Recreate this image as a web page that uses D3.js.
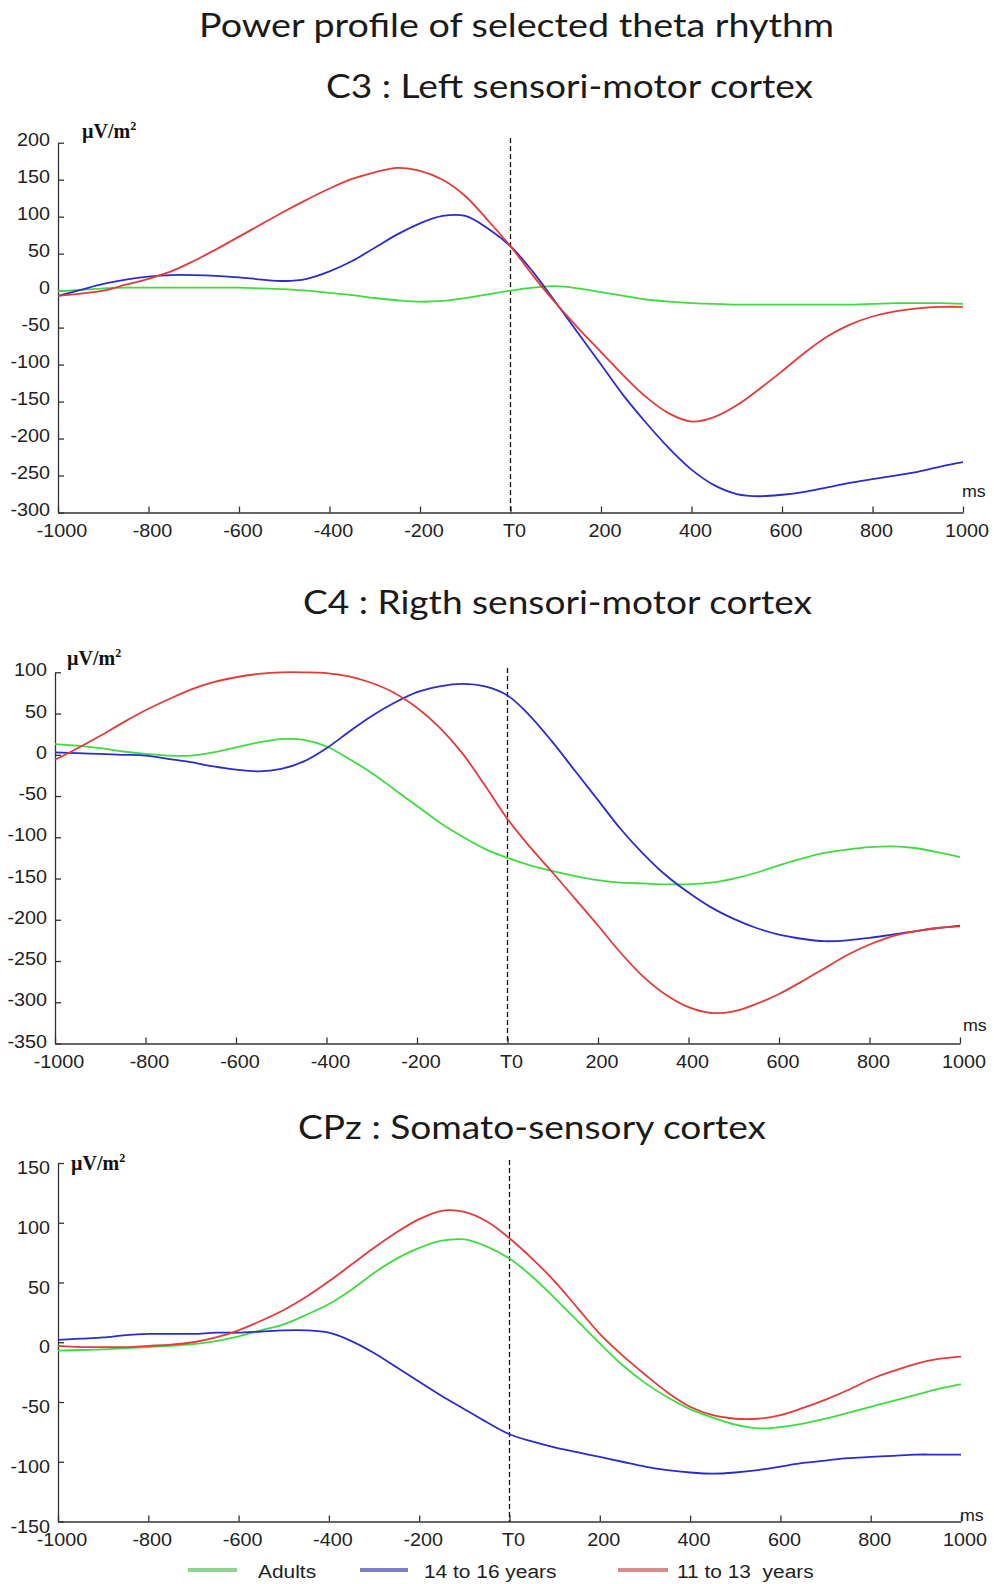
<!DOCTYPE html>
<html><head><meta charset="utf-8">
<script src="https://cdn.jsdelivr.net/npm/d3@7"></script>
<style>body{margin:0;background:#fff} svg{display:block}</style>
</head><body>
<svg id="c" width="994" height="1584"></svg>
<script>
// ---------- data ----------
const times = [-1000,-950,-900,-850,-800,-750,-700,-650,-600,-550,-500,-450,-400,-350,-300,-250,-200,-150,-100,-50,
  0,50,100,150,200,250,300,350,400,450,500,550,600,650,700,750,800,850,900,950,1000];
const xTicks = [-1000,-800,-600,-400,-200,0,200,400,600,800,1000];
const xTickLabels = ["-1000","-800","-600","-400","-200","T0","200","400","600","800","1000"];
const seriesNames = ["Adults","14 to 16 years","11 to 13  years"];

const mainTitle = "Power profile of selected theta rhythm";
const panelTitles = ["C3 : Left sensori-motor cortex","C4 : Rigth sensori-motor cortex","CPz : Somato-sensory cortex"];

// C3
const c3YTicks = [200,150,100,50,0,-50,-100,-150,-200,-250,-300];
const c3Adults = [-1,1,3,4,4,4,4,4,4,3,2,0,-3,-6,-10,-13,-15,-14,-10,-5,
  0,4,6,3,-2,-7,-12,-15,-17,-18,-19,-19,-19,-19,-19,-19,-18,-17,-17,-17,-18];
const c3Teen = [-7,1,9,15,19,21,21,20,18,15,13,16,26,40,58,76,91,101,101,84,
  60,25,-16,-58,-100,-142,-179,-213,-242,-263,-275,-278,-276,-272,-266,-260,-255,-250,-245,-238,-232];
const c3Child = [-7,-4,0,8,16,26,40,56,73,90,107,123,138,151,160,166,162,150,128,95,
  60,20,-17,-51,-83,-115,-144,-166,-177,-171,-155,-133,-109,-84,-62,-46,-35,-28,-24,-22,-22];

// C4
const c4YTicks = [100,50,0,-50,-100,-150,-200,-250,-300,-350];
const c4Adults = [13,11,8,4,1,-1,-1,3,9,15,19,18,10,-5,-22,-42,-62,-82,-99,-114,
  -125,-134,-141,-147,-152,-155,-156,-157,-157,-155,-150,-143,-134,-126,-119,-115,-112,-111,-113,-118,-124];
const c4Teen = [3,2,1,0,-1,-5,-9,-14,-18,-20,-17,-8,8,28,47,63,76,83,86,83,
  72,47,15,-20,-55,-90,-120,-146,-167,-185,-199,-210,-218,-223,-226,-225,-222,-218,-214,-210,-207];
const c4Child = [-6,8,23,39,54,67,79,88,94,98,100,100,99,95,87,75,57,33,2,-37,
  -78,-112,-143,-175,-207,-240,-269,-291,-306,-313,-311,-302,-290,-275,-259,-243,-230,-220,-214,-210,-208];

// CPz
const cpzYTicks = [150,100,50,0,-50,-100,-150];
const cpzAdults = [-7,-6.5,-6,-5,-4,-3,-1.5,1,5,10,15,23,32,44,58,70,79,85,86,80,
  70,55,37,18,-1,-19,-34,-46,-56,-63,-69,-72,-71,-68,-64,-59,-54,-49,-44,-39,-35];
const cpzTeen = [2,3,4,6,7,7,7,8,8,9,10,10,8,1,-9,-21,-33,-45,-56,-67,
  -77,-83,-88,-92,-96,-100,-104,-107,-109,-110,-109,-107,-104,-101,-99,-97,-96,-95,-94,-94,-94];
const cpzChild = [-3,-4,-4,-4,-3,-2,0,4,10,18,27,38,51,65,79,92,103,110,109,101,
  87,70,51,29,7,-11,-27,-42,-54,-61,-64,-64,-61,-55,-48,-40,-31,-24,-18,-14,-12];

// ---------- drawing ----------
const colors = ["#3fdc3f","#2b2bcf","#e53a3a"];
const legendColors = ["#8fd48f","#7c7cc9","#d98c8c"];
const svg = d3.select("#c");
const tickFont = "'Liberation Sans', Arial, sans-serif";

function stretchedText(g, x, y, txt, size, anchor, sx) {
  return g.append("text")
    .attr("transform", `translate(${x},${y}) scale(${sx||1.1},1)`)
    .attr("text-anchor", anchor || "start")
    .style("font-family", tickFont).style("font-size", size + "px")
    .style("white-space", "pre")
    .attr("fill", "#222").text(txt);
}

function fitTitle(txt, x0, x1, y, size) {
  svg.append("text").attr("x", (x0 + x1) / 2).attr("y", y)
    .attr("text-anchor", "middle")
    .attr("textLength", x1 - x0).attr("lengthAdjust", "spacingAndGlyphs")
    .style("font-family", "Lato, 'Open Sans', sans-serif").style("font-size", size + "px")
    .attr("fill", "#1a1a1a").text(txt);
}

fitTitle(mainTitle, 199, 834, 37, 33);

const panels = [
  {title: panelTitles[0], tx: [326, 813], ty: 98, x0: 58, x1: 963, yTop: 142.7, yBot: 512.5,
   domain: [-300, 200], ticks: c3YTicks, dashTop: 138, series: [c3Adults, c3Teen, c3Child],
   unitX: 82, unitY: 138, msX: 0, msY: 497, labOff: 3},
  {title: panelTitles[1], tx: [303, 812], ty: 614, x0: 55, x1: 960, yTop: 672.3, yBot: 1043.5,
   domain: [-350, 100], ticks: c4YTicks, dashTop: 668, series: [c4Adults, c4Teen, c4Child],
   unitX: 67, unitY: 665, msX: 4, msY: 1031, labOff: 4},
  {title: panelTitles[2], tx: [298, 766], ty: 1139, x0: 58, x1: 961, yTop: 1163, yBot: 1521.5,
   domain: [-150, 150], ticks: cpzYTicks, dashTop: 1160, series: [cpzAdults, cpzTeen, cpzChild],
   unitX: 71, unitY: 1170, msX: 0, msY: 1521, labOff: 11}
];

panels.forEach(p => {
  fitTitle(p.title, p.tx[0], p.tx[1], p.ty, 32);
  const x = d3.scaleLinear().domain([-1000, 1000]).range([p.x0, p.x1]);
  const y = d3.scaleLinear().domain(p.domain).range([p.yBot, p.yTop]);
  const g = svg.append("g");

  // axes
  const xAxis = g.append("g").attr("transform", `translate(0,${p.yBot})`)
    .call(d3.axisBottom(x).tickValues(xTicks).tickSizeInner(-6).tickSizeOuter(0).tickFormat(""));
  const yAxis = g.append("g").attr("transform", `translate(${p.x0},0)`)
    .call(d3.axisLeft(y).tickValues(p.ticks).tickSizeInner(-6).tickSizeOuter(0).tickFormat(""));
  [xAxis, yAxis].forEach(a => {
    a.select(".domain").attr("stroke", "#333").attr("stroke-width", 1.3);
    a.selectAll(".tick line").attr("stroke", "#333").attr("stroke-width", 1.3);
  });

  // tick labels
  xTicks.forEach((t, i) => stretchedText(g, x(t) + 4, p.yBot + 24, xTickLabels[i], 18, "middle"));
  p.ticks.forEach(t => stretchedText(g, p.x0 - 8, y(t) + p.labOff, String(t), 18, "end"));

  // unit labels
  const u = g.append("text").attr("x", p.unitX).attr("y", p.unitY)
    .style("font-family", "'Liberation Serif', 'Times New Roman', serif")
    .style("font-size", "20px").style("font-weight", "bold").attr("fill", "#111");
  u.append("tspan").text("µV/m");
  u.append("tspan").attr("dy", -8).style("font-size", "12px").text("2");
  stretchedText(g, p.x1 + p.msX - 1, p.msY, "ms", 17, "start", 1.05);

  // dashed T0 line
  g.append("line").attr("x1", x(0)).attr("x2", x(0)).attr("y1", p.dashTop).attr("y2", p.yBot)
    .attr("stroke", "#111").attr("stroke-width", 1.3).attr("stroke-dasharray", "5,3");

  // curves
  const line = d3.line().x((d, i) => x(times[i])).y(d => y(d)).curve(d3.curveCatmullRom.alpha(0.5));
  p.series.forEach((s, k) => {
    g.append("path").attr("d", line(s)).attr("fill", "none")
      .attr("stroke", colors[k]).attr("stroke-width", 1.8);
  });
});

// legend
const legendLines = [[188, 237], [360, 408], [618, 668]];
const legendTextX = [258, 424, 677];
seriesNames.forEach((n, i) => {
  svg.append("line").attr("x1", legendLines[i][0]).attr("x2", legendLines[i][1])
    .attr("y1", 1570).attr("y2", 1570).attr("stroke", legendColors[i]).attr("stroke-width", 4);
  stretchedText(svg, legendTextX[i], 1578, n, 19, "start");
});
</script>
</body></html>
